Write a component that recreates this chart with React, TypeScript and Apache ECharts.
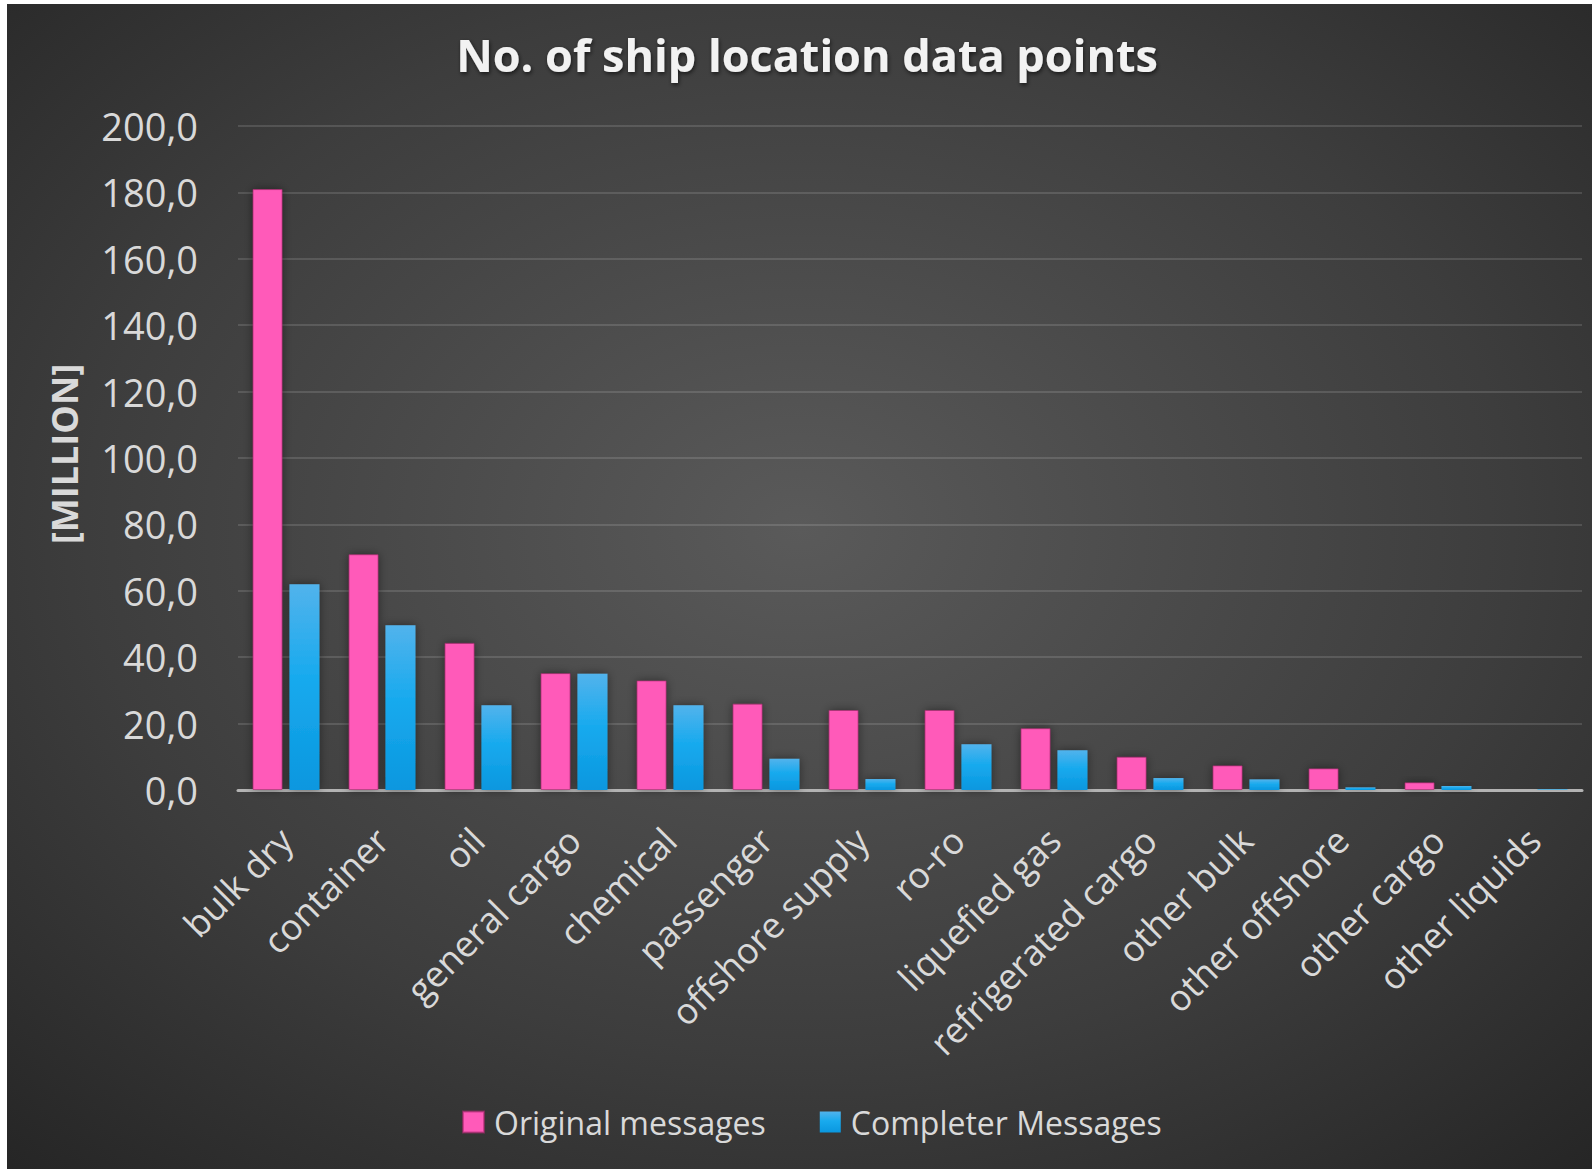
import React, { useEffect, useRef } from "react";
import * as echarts from "echarts";

const categories = [
  "bulk dry",
  "container",
  "oil",
  "general cargo",
  "chemical",
  "passenger",
  "offshore supply",
  "ro-ro",
  "liquefied gas",
  "refrigerated cargo",
  "other bulk",
  "other offshore",
  "other cargo",
  "other liquids",
];
const originalMessages = [181, 71, 44.3, 35.2, 33, 26, 24.1, 24.1, 18.6, 10, 7.4, 6.5, 2.3, 0.3];
const completerMessages = [62, 49.6, 25.5, 35, 25.5, 9.4, 3.3, 13.8, 12, 3.6, 3.2, 0.8, 1.2, 0.2];
const seriesNames = ["Original messages", "Completer Messages"];
const titleText = "No. of ship location data points";
const yAxisName = "[MILLION]";

const FONT = "'Open Sans', sans-serif";
const LABEL = "#d9d9d9";

export default function App() {
  const ref = useRef<HTMLDivElement>(null);
  useEffect(() => {
    if (!ref.current) return;
    const chart = echarts.init(ref.current, null, { renderer: "svg" });
    const pink = "#ff5ab9";
    const blue = new echarts.graphic.LinearGradient(0, 0, 0, 1, [
      { offset: 0, color: "#52b3ec" },
      { offset: 0.45, color: "#18aaee" },
      { offset: 1, color: "#0a97df" },
    ]);
    chart.setOption({
      animation: false,
      backgroundColor: {
        type: "radial",
        x: 0.5,
        y: 0.45,
        r: 0.75,
        colorStops: [
          { offset: 0, color: "#5a5a5a" },
          { offset: 0.6, color: "#3d3d3d" },
          { offset: 1, color: "#252525" },
        ],
      },
      title: {
        text: titleText,
        left: 795,
        top: 23,
        textAlign: "center",
        textStyle: {
          fontFamily: FONT,
          fontWeight: "bold",
          fontSize: 45,
          color: "#f2f2f2",
          textShadowColor: "rgba(0,0,0,0.6)",
          textShadowBlur: 4,
          textShadowOffsetX: 1,
          textShadowOffsetY: 2,
        },
      },
      legend: {
        data: seriesNames,
        bottom: 26,
        left: 450,
        icon: "rect",
        itemWidth: 21,
        itemHeight: 21,
        itemGap: 54,
        textStyle: { fontFamily: FONT, fontSize: 32, color: LABEL, padding: [0, 0, 0, 5] },
      },
      grid: { left: 231, right: 10, top: 122, bottom: 379, containLabel: false },
      xAxis: {
        type: "category",
        data: categories,
        axisLine: { show: true, lineStyle: { color: "#b3b3b3", width: 3 } },
        axisTick: { show: false },
        axisLabel: {
          rotate: 45,
          interval: 0,
          margin: 44,
          fontFamily: FONT,
          fontSize: 36,
          color: LABEL,
        },
      },
      yAxis: {
        type: "value",
        min: 0,
        max: 200,
        interval: 20,
        name: yAxisName,
        nameLocation: "middle",
        nameGap: 156,
        nameTextStyle: {
          fontFamily: FONT,
          fontSize: 36,
          fontWeight: "bold",
          color: LABEL,
          padding: [0, 0, 0, 8],
        },
        axisLine: { show: false },
        axisTick: { show: false },
        splitLine: { lineStyle: { color: "rgba(255,255,255,0.13)", width: 2 } },
        axisLabel: {
          margin: 40,
          fontFamily: FONT,
          fontSize: 38,
          color: LABEL,
          formatter: (v: number) => v.toFixed(1).replace(".", ","),
        },
      },
      series: [
        {
          name: seriesNames[0],
          type: "bar",
          data: originalMessages,
          barWidth: 30,
          barGap: "23%",
          itemStyle: {
            color: pink,
            borderColor: "rgba(170,40,110,0.6)",
            borderWidth: 1,
            shadowColor: "rgba(0,0,0,0.45)",
            shadowBlur: 10,
          },
        },
        {
          name: seriesNames[1],
          type: "bar",
          data: completerMessages,
          barWidth: 30,
          itemStyle: {
            color: blue,
            shadowColor: "rgba(0,0,0,0.45)",
            shadowBlur: 10,
          },
        },
      ],
    });
    return () => chart.dispose();
  }, []);
  return (
    <div style={{ position: "absolute", left: 0, top: 0, width: 1596, height: 1169, background: "#fff" }}>
      <div ref={ref} style={{ position: "absolute", left: 7, top: 4, width: 1585, height: 1165 }} />
    </div>
  );
}
